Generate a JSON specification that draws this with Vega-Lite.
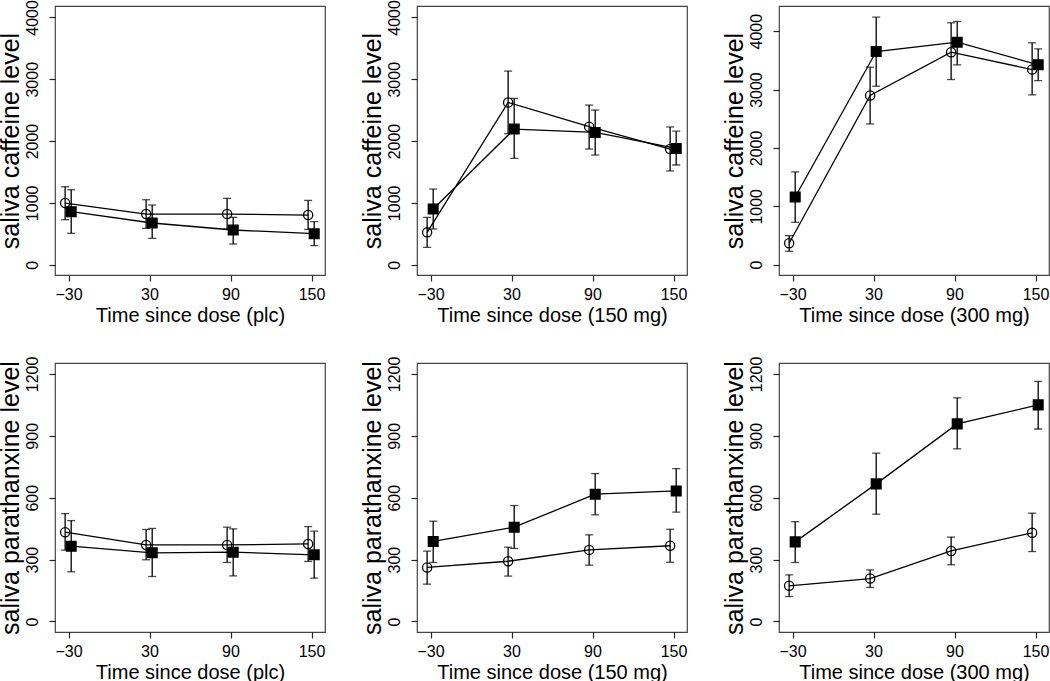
{
  "$schema": "https://vega.github.io/schema/vega-lite/v6.json",
  "background": "white",
  "padding": {"left": -3, "top": -1, "right": 0, "bottom": 0},
  "columns": 3,
  "spacing": {"row": 88, "column": 92},
  "bounds": "flush",
  "data": {"values": [
    {"panel": 1, "group": "o", "time": -30, "x": -32.5, "mean": 997, "lo": 728, "hi": 1261},
    {"panel": 1, "group": "o", "time": 30, "x": 27.5, "mean": 819, "lo": 588, "hi": 1051},
    {"panel": 1, "group": "o", "time": 90, "x": 87.5, "mean": 819, "lo": 577, "hi": 1073},
    {"panel": 1, "group": "o", "time": 150, "x": 147.5, "mean": 803, "lo": 570, "hi": 1040},
    {"panel": 1, "group": "s", "time": -30, "x": -28, "mean": 857, "lo": 507, "hi": 1213},
    {"panel": 1, "group": "s", "time": 30, "x": 32, "mean": 674, "lo": 426, "hi": 965},
    {"panel": 1, "group": "s", "time": 90, "x": 92, "mean": 561, "lo": 334, "hi": 766},
    {"panel": 1, "group": "s", "time": 150, "x": 152, "mean": 501, "lo": 307, "hi": 695},
    {"panel": 2, "group": "o", "time": -30, "x": -32.5, "mean": 523, "lo": 280, "hi": 765},
    {"panel": 2, "group": "o", "time": 30, "x": 27.5, "mean": 2625, "lo": 2120, "hi": 3132},
    {"panel": 2, "group": "o", "time": 90, "x": 87.5, "mean": 2232, "lo": 1871, "hi": 2582},
    {"panel": 2, "group": "o", "time": 150, "x": 147.5, "mean": 1871, "lo": 1516, "hi": 2228},
    {"panel": 2, "group": "s", "time": -30, "x": -28, "mean": 900, "lo": 577, "hi": 1224},
    {"panel": 2, "group": "s", "time": 30, "x": 32, "mean": 2194, "lo": 1720, "hi": 2690},
    {"panel": 2, "group": "s", "time": 90, "x": 92, "mean": 2140, "lo": 1774, "hi": 2501},
    {"panel": 2, "group": "s", "time": 150, "x": 152, "mean": 1881, "lo": 1613, "hi": 2160},
    {"panel": 3, "group": "o", "time": -30, "x": -32.5, "mean": 366, "lo": 229, "hi": 497},
    {"panel": 3, "group": "o", "time": 30, "x": 27.5, "mean": 2897, "lo": 2411, "hi": 3383},
    {"panel": 3, "group": "o", "time": 90, "x": 87.5, "mean": 3640, "lo": 3171, "hi": 4143},
    {"panel": 3, "group": "o", "time": 150, "x": 147.5, "mean": 3343, "lo": 2909, "hi": 3800},
    {"panel": 3, "group": "s", "time": -30, "x": -28, "mean": 1160, "lo": 726, "hi": 1589},
    {"panel": 3, "group": "s", "time": 30, "x": 32, "mean": 3651, "lo": 3057, "hi": 4240},
    {"panel": 3, "group": "s", "time": 90, "x": 92, "mean": 3811, "lo": 3423, "hi": 4166},
    {"panel": 3, "group": "s", "time": 150, "x": 152, "mean": 3423, "lo": 3154, "hi": 3697},
    {"panel": 4, "group": "o", "time": -30, "x": -32.5, "mean": 433, "lo": 346, "hi": 523},
    {"panel": 4, "group": "o", "time": 30, "x": 27.5, "mean": 371, "lo": 299, "hi": 446},
    {"panel": 4, "group": "o", "time": 90, "x": 87.5, "mean": 371, "lo": 286, "hi": 457},
    {"panel": 4, "group": "o", "time": 150, "x": 147.5, "mean": 376, "lo": 291, "hi": 460},
    {"panel": 4, "group": "s", "time": -30, "x": -28, "mean": 365, "lo": 241, "hi": 489},
    {"panel": 4, "group": "s", "time": 30, "x": 32, "mean": 333, "lo": 218, "hi": 451},
    {"panel": 4, "group": "s", "time": 90, "x": 92, "mean": 336, "lo": 221, "hi": 449},
    {"panel": 4, "group": "s", "time": 150, "x": 152, "mean": 323, "lo": 210, "hi": 438},
    {"panel": 5, "group": "o", "time": -30, "x": -32.5, "mean": 262, "lo": 181, "hi": 341},
    {"panel": 5, "group": "o", "time": 30, "x": 27.5, "mean": 292, "lo": 220, "hi": 360},
    {"panel": 5, "group": "o", "time": 90, "x": 87.5, "mean": 347, "lo": 273, "hi": 420},
    {"panel": 5, "group": "o", "time": 150, "x": 147.5, "mean": 367, "lo": 287, "hi": 447},
    {"panel": 5, "group": "s", "time": -30, "x": -28, "mean": 388, "lo": 286, "hi": 486},
    {"panel": 5, "group": "s", "time": 30, "x": 32, "mean": 457, "lo": 354, "hi": 562},
    {"panel": 5, "group": "s", "time": 90, "x": 92, "mean": 617, "lo": 517, "hi": 717},
    {"panel": 5, "group": "s", "time": 150, "x": 152, "mean": 633, "lo": 530, "hi": 741},
    {"panel": 6, "group": "o", "time": -30, "x": -32.5, "mean": 173, "lo": 121, "hi": 226},
    {"panel": 6, "group": "o", "time": 30, "x": 27.5, "mean": 208, "lo": 165, "hi": 250},
    {"panel": 6, "group": "o", "time": 90, "x": 87.5, "mean": 342, "lo": 275, "hi": 409},
    {"panel": 6, "group": "o", "time": 150, "x": 147.5, "mean": 430, "lo": 339, "hi": 525},
    {"panel": 6, "group": "s", "time": -30, "x": -28, "mean": 386, "lo": 286, "hi": 484},
    {"panel": 6, "group": "s", "time": 30, "x": 32, "mean": 667, "lo": 520, "hi": 816},
    {"panel": 6, "group": "s", "time": 90, "x": 92, "mean": 958, "lo": 837, "hi": 1084},
    {"panel": 6, "group": "s", "time": 150, "x": 152, "mean": 1050, "lo": 933, "hi": 1164}
  ]},
  "concat": [
    {"width": 270, "height": 269, "transform": [{"filter": "datum.panel == 1"}],
     "encoding": {
       "x": {"field": "x", "type": "quantitative", "scale": {"domain": [-40, 160], "nice": false, "zero": false}, "axis": {"values": [-30, 30, 90, 150], "title": "Time since dose (plc)"}},
       "y": {"field": "mean", "type": "quantitative", "scale": {"domain": [-167, 4185], "nice": false, "zero": false}, "axis": {"values": [0, 1000, 2000, 3000, 4000], "title": "saliva caffeine level"}}
     },
     "layer": [
       {"mark": {"type": "line", "color": "black", "strokeWidth": 1.3}, "encoding": {"detail": {"field": "group"}}},
       {"mark": {"type": "rule", "color": "black", "strokeWidth": 1.3}, "encoding": {"y": {"field": "lo", "type": "quantitative"}, "y2": {"field": "hi"}}},
       {"mark": {"type": "tick", "orient": "horizontal", "color": "black", "size": 8, "thickness": 1.3}, "encoding": {"y": {"field": "lo", "type": "quantitative"}}},
       {"mark": {"type": "tick", "orient": "horizontal", "color": "black", "size": 8, "thickness": 1.3}, "encoding": {"y": {"field": "hi", "type": "quantitative"}}},
       {"mark": {"type": "point", "stroke": "black", "strokeWidth": 1.3, "opacity": 1}, "encoding": {"shape": {"field": "group", "scale": {"domain": ["o", "s"], "range": ["circle", "square"]}, "legend": null}, "fill": {"field": "group", "scale": {"domain": ["o", "s"], "range": ["transparent", "black"]}, "legend": null}, "size": {"field": "group", "scale": {"domain": ["o", "s"], "range": [85, 95]}, "legend": null}}}
     ]},
    {"width": 270, "height": 269, "transform": [{"filter": "datum.panel == 2"}],
     "encoding": {
       "x": {"field": "x", "type": "quantitative", "scale": {"domain": [-40, 160], "nice": false, "zero": false}, "axis": {"values": [-30, 30, 90, 150], "title": "Time since dose (150 mg)"}},
       "y": {"field": "mean", "type": "quantitative", "scale": {"domain": [-167, 4185], "nice": false, "zero": false}, "axis": {"values": [0, 1000, 2000, 3000, 4000], "title": "saliva caffeine level"}}
     },
     "layer": [
       {"mark": {"type": "line", "color": "black", "strokeWidth": 1.3}, "encoding": {"detail": {"field": "group"}}},
       {"mark": {"type": "rule", "color": "black", "strokeWidth": 1.3}, "encoding": {"y": {"field": "lo", "type": "quantitative"}, "y2": {"field": "hi"}}},
       {"mark": {"type": "tick", "orient": "horizontal", "color": "black", "size": 8, "thickness": 1.3}, "encoding": {"y": {"field": "lo", "type": "quantitative"}}},
       {"mark": {"type": "tick", "orient": "horizontal", "color": "black", "size": 8, "thickness": 1.3}, "encoding": {"y": {"field": "hi", "type": "quantitative"}}},
       {"mark": {"type": "point", "stroke": "black", "strokeWidth": 1.3, "opacity": 1}, "encoding": {"shape": {"field": "group", "scale": {"domain": ["o", "s"], "range": ["circle", "square"]}, "legend": null}, "fill": {"field": "group", "scale": {"domain": ["o", "s"], "range": ["transparent", "black"]}, "legend": null}, "size": {"field": "group", "scale": {"domain": ["o", "s"], "range": [85, 95]}, "legend": null}}}
     ]},
    {"width": 270, "height": 269, "transform": [{"filter": "datum.panel == 3"}],
     "encoding": {
       "x": {"field": "x", "type": "quantitative", "scale": {"domain": [-40, 160], "nice": false, "zero": false}, "axis": {"values": [-30, 30, 90, 150], "title": "Time since dose (300 mg)"}},
       "y": {"field": "mean", "type": "quantitative", "scale": {"domain": [-177, 4431], "nice": false, "zero": false}, "axis": {"values": [0, 1000, 2000, 3000, 4000], "title": "saliva caffeine level"}}
     },
     "layer": [
       {"mark": {"type": "line", "color": "black", "strokeWidth": 1.3}, "encoding": {"detail": {"field": "group"}}},
       {"mark": {"type": "rule", "color": "black", "strokeWidth": 1.3}, "encoding": {"y": {"field": "lo", "type": "quantitative"}, "y2": {"field": "hi"}}},
       {"mark": {"type": "tick", "orient": "horizontal", "color": "black", "size": 8, "thickness": 1.3}, "encoding": {"y": {"field": "lo", "type": "quantitative"}}},
       {"mark": {"type": "tick", "orient": "horizontal", "color": "black", "size": 8, "thickness": 1.3}, "encoding": {"y": {"field": "hi", "type": "quantitative"}}},
       {"mark": {"type": "point", "stroke": "black", "strokeWidth": 1.3, "opacity": 1}, "encoding": {"shape": {"field": "group", "scale": {"domain": ["o", "s"], "range": ["circle", "square"]}, "legend": null}, "fill": {"field": "group", "scale": {"domain": ["o", "s"], "range": ["transparent", "black"]}, "legend": null}, "size": {"field": "group", "scale": {"domain": ["o", "s"], "range": [85, 95]}, "legend": null}}}
     ]},
    {"width": 270, "height": 269, "transform": [{"filter": "datum.panel == 4"}],
     "encoding": {
       "x": {"field": "x", "type": "quantitative", "scale": {"domain": [-40, 160], "nice": false, "zero": false}, "axis": {"values": [-30, 30, 90, 150], "title": "Time since dose (plc)"}},
       "y": {"field": "mean", "type": "quantitative", "scale": {"domain": [-51, 1253], "nice": false, "zero": false}, "axis": {"values": [0, 300, 600, 900, 1200], "title": "saliva parathanxine level"}}
     },
     "layer": [
       {"mark": {"type": "line", "color": "black", "strokeWidth": 1.3}, "encoding": {"detail": {"field": "group"}}},
       {"mark": {"type": "rule", "color": "black", "strokeWidth": 1.3}, "encoding": {"y": {"field": "lo", "type": "quantitative"}, "y2": {"field": "hi"}}},
       {"mark": {"type": "tick", "orient": "horizontal", "color": "black", "size": 8, "thickness": 1.3}, "encoding": {"y": {"field": "lo", "type": "quantitative"}}},
       {"mark": {"type": "tick", "orient": "horizontal", "color": "black", "size": 8, "thickness": 1.3}, "encoding": {"y": {"field": "hi", "type": "quantitative"}}},
       {"mark": {"type": "point", "stroke": "black", "strokeWidth": 1.3, "opacity": 1}, "encoding": {"shape": {"field": "group", "scale": {"domain": ["o", "s"], "range": ["circle", "square"]}, "legend": null}, "fill": {"field": "group", "scale": {"domain": ["o", "s"], "range": ["transparent", "black"]}, "legend": null}, "size": {"field": "group", "scale": {"domain": ["o", "s"], "range": [85, 95]}, "legend": null}}}
     ]},
    {"width": 270, "height": 269, "transform": [{"filter": "datum.panel == 5"}],
     "encoding": {
       "x": {"field": "x", "type": "quantitative", "scale": {"domain": [-40, 160], "nice": false, "zero": false}, "axis": {"values": [-30, 30, 90, 150], "title": "Time since dose (150 mg)"}},
       "y": {"field": "mean", "type": "quantitative", "scale": {"domain": [-51, 1253], "nice": false, "zero": false}, "axis": {"values": [0, 300, 600, 900, 1200], "title": "saliva parathanxine level"}}
     },
     "layer": [
       {"mark": {"type": "line", "color": "black", "strokeWidth": 1.3}, "encoding": {"detail": {"field": "group"}}},
       {"mark": {"type": "rule", "color": "black", "strokeWidth": 1.3}, "encoding": {"y": {"field": "lo", "type": "quantitative"}, "y2": {"field": "hi"}}},
       {"mark": {"type": "tick", "orient": "horizontal", "color": "black", "size": 8, "thickness": 1.3}, "encoding": {"y": {"field": "lo", "type": "quantitative"}}},
       {"mark": {"type": "tick", "orient": "horizontal", "color": "black", "size": 8, "thickness": 1.3}, "encoding": {"y": {"field": "hi", "type": "quantitative"}}},
       {"mark": {"type": "point", "stroke": "black", "strokeWidth": 1.3, "opacity": 1}, "encoding": {"shape": {"field": "group", "scale": {"domain": ["o", "s"], "range": ["circle", "square"]}, "legend": null}, "fill": {"field": "group", "scale": {"domain": ["o", "s"], "range": ["transparent", "black"]}, "legend": null}, "size": {"field": "group", "scale": {"domain": ["o", "s"], "range": [85, 95]}, "legend": null}}}
     ]},
    {"width": 270, "height": 269, "transform": [{"filter": "datum.panel == 6"}],
     "encoding": {
       "x": {"field": "x", "type": "quantitative", "scale": {"domain": [-40, 160], "nice": false, "zero": false}, "axis": {"values": [-30, 30, 90, 150], "title": "Time since dose (300 mg)"}},
       "y": {"field": "mean", "type": "quantitative", "scale": {"domain": [-51, 1253], "nice": false, "zero": false}, "axis": {"values": [0, 300, 600, 900, 1200], "title": "saliva parathanxine level"}}
     },
     "layer": [
       {"mark": {"type": "line", "color": "black", "strokeWidth": 1.3}, "encoding": {"detail": {"field": "group"}}},
       {"mark": {"type": "rule", "color": "black", "strokeWidth": 1.3}, "encoding": {"y": {"field": "lo", "type": "quantitative"}, "y2": {"field": "hi"}}},
       {"mark": {"type": "tick", "orient": "horizontal", "color": "black", "size": 8, "thickness": 1.3}, "encoding": {"y": {"field": "lo", "type": "quantitative"}}},
       {"mark": {"type": "tick", "orient": "horizontal", "color": "black", "size": 8, "thickness": 1.3}, "encoding": {"y": {"field": "hi", "type": "quantitative"}}},
       {"mark": {"type": "point", "stroke": "black", "strokeWidth": 1.3, "opacity": 1}, "encoding": {"shape": {"field": "group", "scale": {"domain": ["o", "s"], "range": ["circle", "square"]}, "legend": null}, "fill": {"field": "group", "scale": {"domain": ["o", "s"], "range": ["transparent", "black"]}, "legend": null}, "size": {"field": "group", "scale": {"domain": ["o", "s"], "range": [85, 95]}, "legend": null}}}
     ]}
  ],
  "config": {
    "view": {"stroke": "#444", "strokeWidth": 1.2},
    "font": "Liberation Sans",
    "axis": {
      "domain": false, "grid": false, "ticks": true, "tickColor": "#222", "tickWidth": 1.2, "tickSize": 6,
      "labelFont": "Liberation Sans", "labelFontSize": 16, "labelColor": "black",
      "titleFont": "Liberation Sans", "titleFontWeight": "normal", "titleColor": "black",
      "format": "d", "labelFlush": false, "labelOverlap": false
    },
    "axisX": {"titleFontSize": 20, "labelPadding": 5, "titlePadding": 3},
    "axisY": {"titleFontSize": 25, "labelAngle": -90, "labelAlign": "center", "labelBaseline": "bottom", "labelPadding": 9, "titlePadding": 1}
  }
}
